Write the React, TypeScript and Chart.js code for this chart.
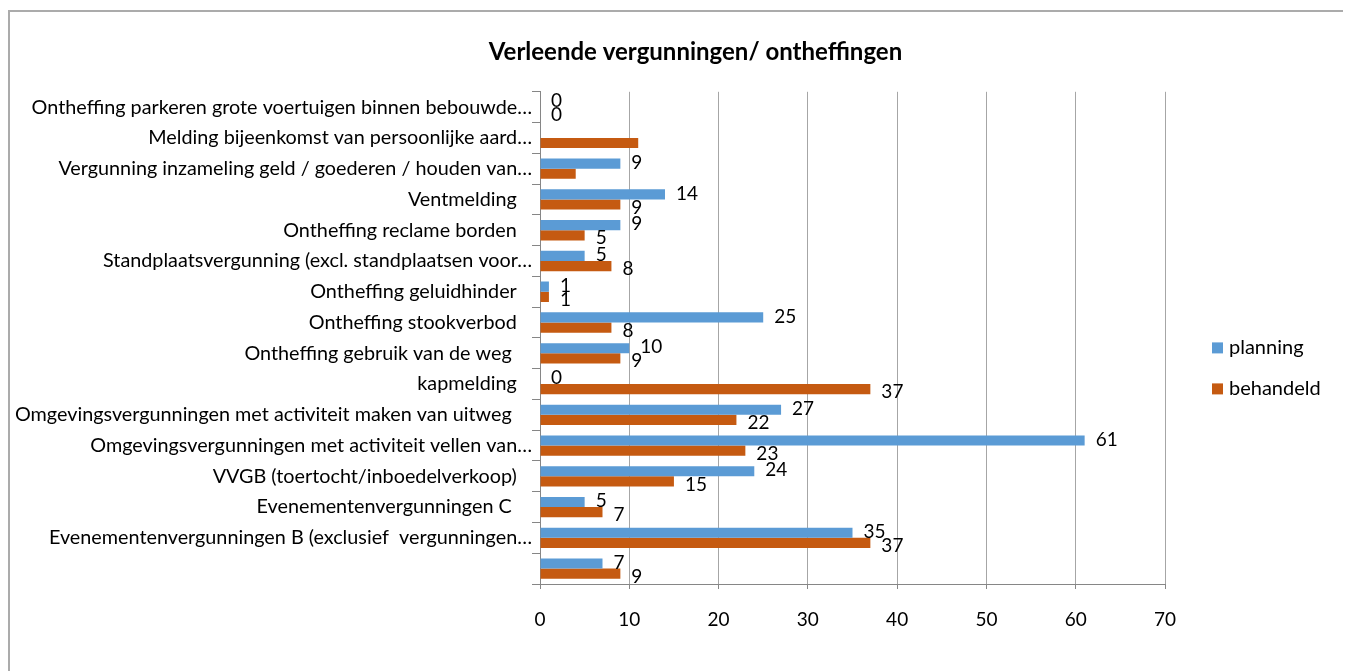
import React, { useEffect, useRef } from "react";
import { Chart, registerables } from "chart.js";

Chart.register(...registerables);

const categories = [
  "Ontheffing parkeren grote voertuigen binnen bebouwde…",
  "Melding bijeenkomst van persoonlijke aard…",
  "Vergunning inzameling geld / goederen / houden van…",
  "Ventmelding   ",
  "Ontheffing reclame borden   ",
  "Standplaatsvergunning (excl. standplaatsen voor…",
  "Ontheffing geluidhinder   ",
  "Ontheffing stookverbod   ",
  "Ontheffing gebruik van de weg    ",
  "kapmelding   ",
  "Omgevingsvergunningen met activiteit maken van uitweg    ",
  "Omgevingsvergunningen met activiteit vellen van…",
  "VVGB (toertocht/inboedelverkoop)   ",
  "Evenementenvergunningen C    ",
  "Evenementenvergunningen B (exclusief  vergunningen…",
  "",
];

const planning: (number | null)[] = [0, null, 9, 14, 9, 5, 1, 25, 10, 0, 27, 61, 24, 5, 35, 7];
const behandeld: (number | null)[] = [0, 11, 4, 9, 5, 8, 1, 8, 9, 37, 22, 23, 15, 7, 37, 9];

const planningLabels = ["0", "", "9", "14", "9", "5", "1", "25", "10", "0", "27", "61", "24", "5", "35", "7"];
const behandeldLabels = ["0", "", "", "9", "5", "8", "1", "8", "9", "37", "22", "23", "15", "7", "37", "9"];

const seriesNames = ["planning", "behandeld"];
const seriesColors = ["#5B9BD5", "#C55A11"];

const title = "Verleende vergunningen/ ontheffingen";
const xMin = 0;
const xMax = 70;
const xStep = 10;

const FONT = "Lato, 'Open Sans', sans-serif";

const dataLabelPlugin = {
  id: "dataLabels",
  afterDatasetsDraw(chart: any) {
    const ctx = chart.ctx;
    const labelSets = [planningLabels, behandeldLabels];
    ctx.save();
    ctx.font = `19px ${FONT}`;
    ctx.fillStyle = "#000";
    ctx.textAlign = "left";
    ctx.textBaseline = "middle";
    chart.data.datasets.forEach((_ds: any, di: number) => {
      const meta = chart.getDatasetMeta(di);
      meta.data.forEach((el: any, i: number) => {
        const txt = labelSets[di][i];
        if (!txt) return;
        const x = el.x;
        const y = el.y;
        if (!isFinite(x) || !isFinite(y)) return;
        ctx.fillText(txt, x + 11, y + (di === 1 ? 3 : -1));
      });
    });
    ctx.restore();
  },
};

const customLegendPlugin = {
  id: "customLegend",
  afterDraw(chart: any) {
    const ctx = chart.ctx;
    const area = chart.chartArea;
    const baseX = area.right + 47;
    const centerY = (area.top + area.bottom) / 2 + 30.5;
    ctx.save();
    ctx.font = `20px ${FONT}`;
    ctx.textAlign = "left";
    ctx.textBaseline = "middle";
    chart.data.datasets.forEach((ds: any, i: number) => {
      const cy = centerY + (i - 0.5) * 41;
      ctx.fillStyle = ds.backgroundColor;
      ctx.fillRect(baseX, cy - 5.5, 11, 11);
      ctx.fillStyle = "#000";
      ctx.fillText(ds.label, baseX + 17, cy);
    });
    ctx.restore();
  },
};

const titleShiftPlugin = {
  id: "titleShift",
  afterLayout(chart: any) {
    const t = chart.titleBlock;
    if (t) {
      t.left += 108;
      t.right += 108;
    }
  },
};

export default function App() {
  const ref = useRef<HTMLCanvasElement>(null);

  useEffect(() => {
    document.documentElement.style.overflow = "hidden";
    document.body.style.overflow = "hidden";
    const canvas = ref.current;
    if (!canvas) return;
    const chart = new Chart(canvas, {
      type: "bar",
      data: {
        labels: categories,
        datasets: [
          {
            label: seriesNames[0],
            data: planning,
            backgroundColor: seriesColors[0],
            borderWidth: 0,
            categoryPercentage: 0.66,
            barPercentage: 1,
          },
          {
            label: seriesNames[1],
            data: behandeld,
            backgroundColor: seriesColors[1],
            borderWidth: 0,
            categoryPercentage: 0.66,
            barPercentage: 1,
          },
        ],
      },
      options: {
        indexAxis: "y",
        responsive: false,
        animation: false,
        devicePixelRatio: 1,
        layout: { padding: { left: 0, right: 180, top: 0, bottom: 0 } },
        plugins: {
          legend: { display: false },
          tooltip: { enabled: false },
          title: {
            display: true,
            text: title,
            color: "#000",
            font: { family: FONT, size: 24, weight: "bold", lineHeight: 1.2 },
            padding: { top: 26, bottom: 25 },
          },
        },
        scales: {
          x: {
            type: "linear",
            min: xMin,
            max: xMax,
            ticks: {
              stepSize: xStep,
              color: "#000",
              font: { family: FONT, size: 19 },
              padding: 19,
            },
            grid: {
              color: "#A6A6A6",
              lineWidth: 1,
              drawTicks: true,
              tickLength: 5,
              tickColor: "#868686",
            },
            border: { display: true, color: "#868686", width: 1 },
            afterFit(scale: any) {
              scale.height = 87;
            },
          },
          y: {
            type: "category",
            ticks: {
              color: "#000",
              font: { family: FONT, size: 19.8 },
              padding: 0,
              autoSkip: false,
            },
            grid: {
              offset: true,
              drawOnChartArea: false,
              drawTicks: true,
              tickLength: 8,
              color: "#868686",
            },
            border: { display: true, color: "#868686", width: 1 },
            afterFit(scale: any) {
              scale.width = 530;
            },
          },
        },
      },
      plugins: [titleShiftPlugin, dataLabelPlugin, customLegendPlugin],
    });
    return () => chart.destroy();
  }, []);

  return (
    <div
      style={{
        marginTop: 2,
        width: 1339,
        height: 700,
        border: "2px solid #ABABAB",
        boxSizing: "border-box",
        background: "#fff",
      }}
    >
      <canvas ref={ref} width={1335} height={659} style={{ display: "block", width: 1335, height: 659 }} />
    </div>
  );
}
